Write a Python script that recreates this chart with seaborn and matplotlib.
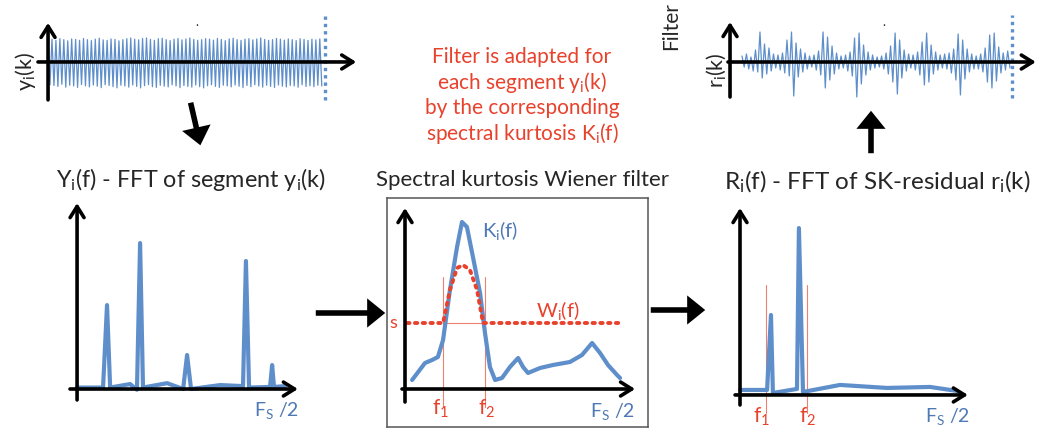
import numpy as np
import pandas as pd
import seaborn as sns
import matplotlib.pyplot as plt

W, H = 1039, 428
BLUE = '#5E8FCB'
LBLUE = '#4E79B4'
RED = '#E8412C'
THIN_RED = '#EE8070'

# ---- top-left segment y_i(k): peak / trough of each oscillation ----
yi_peaks = [0.92, 0.95, 0.90, 0.97, 0.93, 0.88, 0.96, 0.94, 0.90, 0.98,
            0.93, 0.89, 0.95, 0.99, 0.92, 0.90, 0.96, 0.94, 0.88, 0.93,
            0.97, 1.00, 0.95, 0.92, 0.98, 1.00, 0.94, 0.90, 0.97, 0.99,
            0.93, 0.89, 0.95, 0.98, 0.92, 0.96, 1.00, 0.94, 0.90, 0.93,
            0.97, 0.95, 0.91, 0.98, 0.94, 0.89, 0.96, 0.99, 0.93, 0.90,
            0.95, 0.97, 0.92, 0.96, 1.00, 0.94, 0.90, 0.93, 0.98, 0.95,
            0.91, 0.96, 0.93, 0.89, 0.97, 0.94, 0.90, 0.95, 0.92, 0.96]
yi_troughs = [-0.95, -0.98, -1.02, -0.93, -1.05, -0.97, -1.00, -1.06, -0.94, -0.99,
              -1.04, -0.96, -1.01, -1.07, -0.95, -0.98, -1.03, -1.08, -0.97, -1.00,
              -1.05, -0.96, -1.02, -1.08, -0.99, -0.94, -1.03, -1.06, -0.97, -1.01,
              -1.04, -0.95, -1.00, -1.07, -0.98, -1.02, -1.05, -0.96, -1.03, -1.08,
              -0.99, -0.95, -1.02, -1.06, -0.97, -1.00, -1.04, -0.96, -1.01, -1.07,
              -0.98, -1.03, -0.95, -1.00, -1.05, -0.97, -1.02, -1.06, -0.96, -1.01,
              -1.04, -0.98, -1.00, -1.05, -0.95, -1.02, -0.99, -1.03, -0.97, -1.00]

# ---- top-right SK residual r_i(k) ----
ri_vals = [0.6, -0.5, 0.8, -0.7, 0.5, -0.9, 1.2, -1.0,
           3.0, -1.6, 1.8, -1.2, 1.4, -0.9, 0.8, -0.6,
           0.7, -0.8, 0.9, -1.1, 2.2, -1.4, 3.0, -3.4,
           1.9, -1.5, 1.3, -1.0, 0.9, -0.7, 0.6, -0.5,
           0.7, -0.8, 1.1, -1.3, 3.0, -2.6, 2.5, -1.8,
           1.6, -1.2, 0.9, -0.7, 0.6, -0.6, 0.7, -0.9,
           1.0, -1.4, 2.4, -3.5, 2.9, -2.2, 1.7, -1.3,
           1.0, -0.8, 0.7, -0.6, 0.5, -0.5, 0.6, -0.7,
           0.9, -1.2, 1.6, -2.0, 2.9, -3.2, 2.2, -1.6,
           1.2, -0.9, 0.8, -0.6, 0.7, -0.8, 1.0, -1.3,
           2.0, -2.3, 2.9, -2.0, 1.7, -1.2, 1.0, -0.8,
           0.7, -0.6, 0.8, -0.7, 0.9, -1.1, 1.3, -1.8,
           2.8, -3.3, 2.2, -1.7, 1.3, -1.0, 0.8, -0.7,
           0.6, -0.7, 0.8, -1.0, 1.4, -2.0, 2.7, -2.6,
           2.9, -1.9, 1.5, -1.1, 0.9, -0.8, 1.1, -0.6]

# ---- Y_i(f): FFT of segment (f normalised to Fs/2) ----
Yf_freq = [0.0, 0.125, 0.144, 0.159, 0.255, 0.288, 0.303, 0.317, 0.433, 0.510,
           0.529, 0.548, 0.688, 0.798, 0.812, 0.827, 0.928, 0.938, 0.947, 1.0]
Yf_amp = [0.01, 0.01, 0.575, 0.01, 0.034, -0.005, 1.0, 0.01, 0.04, 0.0,
          0.233, 0.0, 0.027, 0.02, 0.877, 0.01, 0.014, 0.164, 0.014, 0.02]

# ---- spectral kurtosis K_i(f) and Wiener filter W_i(f) ----
K_freq = [0.033, 0.093, 0.126, 0.153, 0.177, 0.209, 0.242, 0.265, 0.288, 0.316,
          0.349, 0.372, 0.395, 0.419, 0.451, 0.488, 0.526, 0.549, 0.572, 0.628,
          0.688, 0.767, 0.823, 0.870, 0.907, 0.944, 0.986, 1.0]
K_vals = [0.09, 0.26, 0.29, 0.32, 0.49, 0.99, 1.42, 1.67, 1.62, 1.32,
          0.96, 0.56, 0.22, 0.09, 0.11, 0.22, 0.31, 0.22, 0.16, 0.21,
          0.24, 0.27, 0.34, 0.46, 0.36, 0.24, 0.14, 0.11]
W_freq = [0.01, 0.177, 0.209, 0.242, 0.270, 0.302, 0.335, 0.363, 1.0]
W_vals = [0.66, 0.66, 0.99, 1.21, 1.24, 1.19, 0.99, 0.66, 0.66]
s_level = 0.66
f1, f2 = 0.177, 0.372

# ---- R_i(f): FFT of SK residual ----
Rf_freq = [0.0, 0.126, 0.144, 0.153, 0.265, 0.274, 0.293, 0.465, 0.684, 0.884, 1.009]
Rf_amp = [0.03, 0.03, 0.479, 0.012, 0.036, 1.0, 0.018, 0.06, 0.042, 0.048, 0.024]
r_f1, r_f2 = 0.121, 0.312

sns.set_style('white')
plt.rcParams['font.family'] = ['Lato', 'DejaVu Sans']

fig = plt.figure(figsize=(W / 100, H / 100), dpi=100)


def px_axes(x0, y0, x1, y1):
    return fig.add_axes([x0 / W, 1 - y1 / H, (x1 - x0) / W, (y1 - y0) / H])


def P(x, y):
    return (x / W, 1 - y / H)


def axis_arrow(ax, start, end, lw=2.6):
    ax.annotate('', xy=end, xytext=start,
                arrowprops=dict(arrowstyle='->,head_length=0.4,head_width=0.25',
                                lw=lw, color='black', shrinkA=0, shrinkB=0,
                                mutation_scale=20),
                annotation_clip=False)


def big_arrow(start, end):
    fig.add_artist(plt.matplotlib.patches.FancyArrowPatch(
        P(*start), P(*end), transform=fig.transFigure,
        arrowstyle='simple,head_length=0.65,head_width=1.05,tail_width=0.2',
        mutation_scale=20, color='black', lw=0))


def line(ax, x, y, **kw):
    df = pd.DataFrame({'x': x, 'y': y})
    sns.lineplot(data=df, x='x', y='y', ax=ax, sort=False, estimator=None, **kw)
    ax.set_xlabel('')
    ax.set_ylabel('')


# top-left segment
axA = px_axes(38, 13, 358, 103)
yi = [v for pair in zip(yi_peaks, yi_troughs) for v in pair]
line(axA, np.arange(len(yi)), yi, color=BLUE, lw=0.9)
axA.set_xlim(-5.1, 157.4)
axA.set_ylim(-1.71, 2.04)
axA.set_axis_off()
axis_arrow(axA, (-5.1, 0), (156.5, 0))
axis_arrow(axA, (0, -1.58), (0, 1.63))
axA.axvline(140.6, ymin=(-1.58 + 1.71) / 3.75, ymax=(1.96 + 1.71) / 3.75,
            color=BLUE, ls=(0, (1, 1.2)), lw=2.4)
fig.text(*P(25, 72), r'y$\mathregular{_i}$(k)', rotation=90, ha='center', va='center', fontsize=15.5)

# top-right residual
axB = px_axes(728, 13, 1039, 103)
line(axB, np.arange(len(ri_vals)), ri_vals, color=BLUE, lw=0.9)
axB.set_xlim(-6.2, 131.9)
axB.set_ylim(-4.1, 4.9)
axB.set_axis_off()
axis_arrow(axB, (-6.2, 0), (130.5, 0))
axis_arrow(axB, (-5.3, -3.5), (-5.3, 4.0))
axB.axvline(119.9, ymin=(-3.6 + 4.1) / 9.0, ymax=(4.7 + 4.1) / 9.0,
            color=BLUE, ls=(0, (1, 1.2)), lw=2.4)
fig.text(*P(716, 70), r'r$\mathregular{_i}$(k)', rotation=90, ha='center', va='center', fontsize=15.5)
fig.text(*P(671, 2), 'Filter', rotation=90, ha='center', va='top', fontsize=15)

fig.text(*P(197, 22), '.', ha='center', va='center', fontsize=9)
fig.text(*P(884, 22), '.', ha='center', va='center', fontsize=9)

# explanation
for i, txt in enumerate(['Filter is adapted for',
                         r'each segment y$\mathregular{_i}$(k)',
                         'by the corresponding',
                         r'spectral kurtosis K$\mathregular{_i}$(f)']):
    fig.text(*P(522, 57 + i * 25.5), txt, ha='center', va='center', fontsize=15, color=RED)

# panel titles
fig.text(*P(191, 180), r'Y$\mathregular{_i}$(f) - FFT of segment y$\mathregular{_i}$(k)',
         ha='center', va='center', fontsize=16.8)
fig.text(*P(522, 180), 'Spectral kurtosis Wiener filter', ha='center', va='center', fontsize=16)
fig.text(*P(877, 182), r'R$\mathregular{_i}$(f) - FFT of SK-residual r$\mathregular{_i}$(k)',
         ha='center', va='center', fontsize=17.5)

# Y_i(f)
axC = px_axes(70, 200, 300, 402)
line(axC, Yf_freq, Yf_amp, color=BLUE, lw=3)
axC.set_xlim(-0.034, 1.072)
axC.set_ylim(-0.089, 1.295)
axC.set_axis_off()
axis_arrow(axC, (-0.034, 0), (1.062, 0))
axis_arrow(axC, (0, -0.075), (0, 1.274))
axC.text(0.96, -0.15, r'F$\mathregular{_S}$ /2', ha='center', va='center', fontsize=14, color=LBLUE)

# spectral kurtosis box
axD = px_axes(387, 198, 648, 427)
vfrac = ((-0.18 + 0.38) / 2.29, (1.12 + 0.38) / 2.29)
axD.axvline(f1, ymin=vfrac[0], ymax=vfrac[1], color=THIN_RED, lw=0.8)
axD.axvline(f2, ymin=vfrac[0], ymax=vfrac[1], color=THIN_RED, lw=0.8)
axD.hlines(s_level, f1, f2, color=THIN_RED, lw=0.8)
line(axD, K_freq, K_vals, color=BLUE, lw=3)
line(axD, W_freq, W_vals, color=RED, lw=2.8, ls=(0, (0.6, 1.4)))
axD.lines[-1].set_dash_capstyle('round')
axD.set_xlim(-0.0837, 1.130)
axD.set_ylim(-0.38, 1.91)
axD.set_xticks([])
axD.set_yticks([])
for sp in axD.spines.values():
    sp.set_visible(True)
    sp.set_color('#555555')
    sp.set_linewidth(1.1)
axis_arrow(axD, (-0.014, 0), (1.07, 0))
axis_arrow(axD, (0, -0.13), (0, 1.81))
axD.text(-0.056, s_level, 's', ha='center', va='center', fontsize=13, color=RED)
axD.text(0.442, 1.59, r'K$\mathregular{_i}$(f)', ha='center', va='center', fontsize=14.5, color=LBLUE)
axD.text(0.712, 0.79, r'W$\mathregular{_i}$(f)', ha='center', va='center', fontsize=14.5, color=RED)
axD.text(0.163, -0.20, r'f$\mathregular{_1}$', ha='center', va='center', fontsize=15, color=RED)
axD.text(0.381, -0.20, r'f$\mathregular{_2}$', ha='center', va='center', fontsize=15, color=RED)
axD.text(0.967, -0.23, r'F$\mathregular{_S}$ /2', ha='center', va='center', fontsize=14, color=LBLUE)

# R_i(f)
axE = px_axes(733, 205, 975, 425)
efrac = ((-0.108 + 0.18) / 1.318, (0.659 + 0.18) / 1.318)
axE.axvline(r_f1, ymin=efrac[0], ymax=efrac[1], color=THIN_RED, lw=0.8)
axE.axvline(r_f2, ymin=efrac[0], ymax=efrac[1], color=THIN_RED, lw=0.8)
line(axE, Rf_freq, Rf_amp, color=BLUE, lw=3)
axE.set_xlim(-0.0326, 1.093)
axE.set_ylim(-0.18, 1.138)
axE.set_axis_off()
axis_arrow(axE, (-0.023, 0), (1.06, 0))
axis_arrow(axE, (0, -0.06), (0, 1.12))
axE.text(0.102, -0.132, r'f$\mathregular{_1}$', ha='center', va='center', fontsize=15, color=RED)
axE.text(0.316, -0.132, r'f$\mathregular{_2}$', ha='center', va='center', fontsize=15, color=RED)
axE.text(0.963, -0.132, r'F$\mathregular{_S}$ /2', ha='center', va='center', fontsize=14, color=LBLUE)

# flow arrows
big_arrow((190, 100), (201, 148))
big_arrow((313, 313), (388, 313))
big_arrow((648, 310), (708, 310))
big_arrow((871, 156), (871, 108))

fig.savefig('out.png', dpi=100, facecolor='white')
